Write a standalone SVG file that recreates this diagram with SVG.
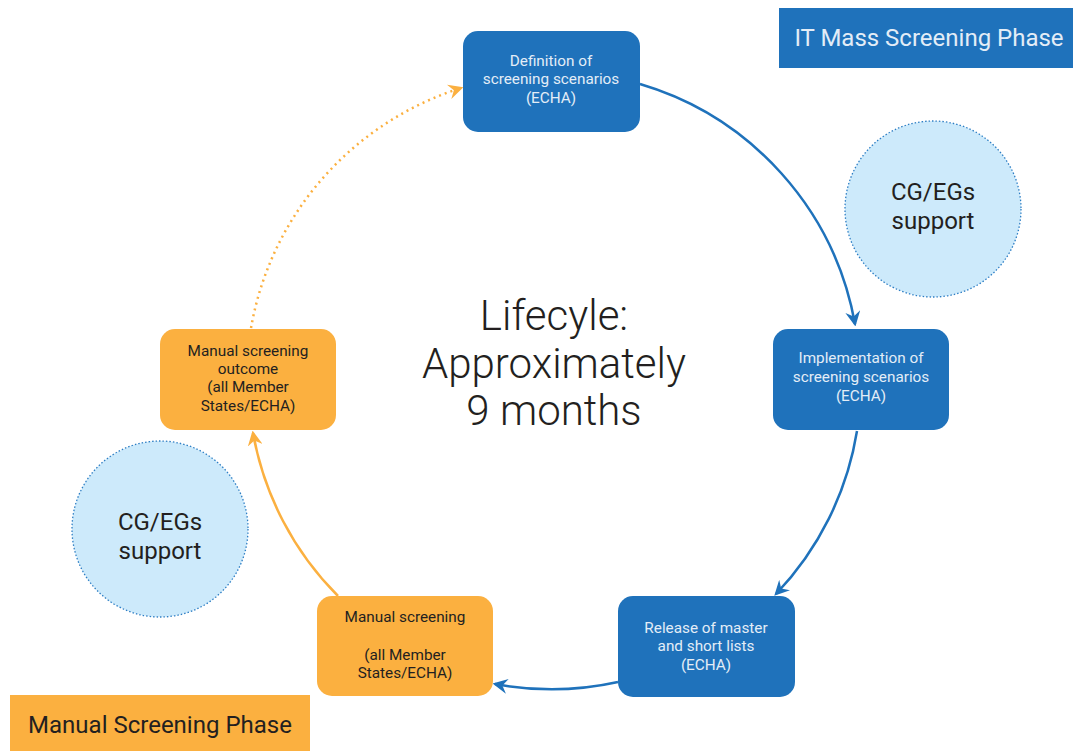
<svg xmlns="http://www.w3.org/2000/svg" width="1073" height="751" viewBox="0 0 1073 751">
<style>
.bbox{fill:#1f72bb}
.obox{fill:#fbb040}
.sup{fill:#cdeafb;stroke:#2d7ec4;stroke-width:1.3;stroke-dasharray:1.5 2}
.wt{font-family:Roboto,"Liberation Sans",sans-serif;font-size:15.3px;fill:#e3edf7;text-anchor:middle}
.dt{font-family:Roboto,"Liberation Sans",sans-serif;font-size:15.3px;fill:#231f20;text-anchor:middle}
.st{font-family:Roboto,"Liberation Sans",sans-serif;font-size:24px;fill:#231f20;text-anchor:middle}
.ct{font-family:Roboto,"Liberation Sans",sans-serif;font-weight:300;font-size:42px;fill:#231f20;text-anchor:middle}
.bl{fill:none;stroke:#1f72bb;stroke-width:2.5}
.or{fill:none;stroke:#fbb040;stroke-width:2.5}
</style>
<defs>
<marker id="ab" viewBox="0 0 12 12" refX="10" refY="6" markerWidth="6" markerHeight="6" orient="auto" markerUnits="strokeWidth">
<path d="M0,0 L12,6 L0,12 L4,6 z" fill="#1f72bb"/>
</marker>
<marker id="ao" viewBox="0 0 12 12" refX="10" refY="6" markerWidth="6" markerHeight="6" orient="auto" markerUnits="strokeWidth">
<path d="M0,0 L12,6 L0,12 L4,6 z" fill="#fbb040"/>
</marker>
</defs>
<rect width="1073" height="751" fill="#ffffff"/>

<g id="connectors">
<path class="bl" d="M640,84 A307,307 0 0 1 855,324" marker-end="url(#ab)"/>
<path class="bl" d="M857,431 A307,307 0 0 1 776,594" marker-end="url(#ab)"/>
<path class="bl" d="M618,682 A307,307 0 0 1 495,684" marker-end="url(#ab)"/>
<path class="or" d="M338,596 A307,307 0 0 1 253,433" marker-end="url(#ao)"/>
<path class="or" stroke-dasharray="2 4" d="M251,328 A307,307 0 0 1 461,88" marker-end="url(#ao)"/>
</g>

<g id="it-phase">
<rect x="779" y="8" width="294" height="60" class="bbox"/>
<text x="929" y="46" class="st" style="fill:#e3edf7">IT Mass Screening Phase</text>
</g>

<g id="manual-phase">
<rect x="10" y="695" width="300" height="56" class="obox"/>
<text x="160" y="733" class="st">Manual Screening Phase</text>
</g>

<g id="definition">
<rect x="463" y="31" width="177" height="101" rx="15" class="bbox"/>
<text class="wt"><tspan x="551" y="66">Definition of</tspan><tspan x="551" y="84">screening scenarios</tspan><tspan x="551" y="103">(ECHA)</tspan></text>
</g>

<g id="implementation">
<rect x="773" y="329" width="176" height="101" rx="15" class="bbox"/>
<text class="wt"><tspan x="861" y="363">Implementation of</tspan><tspan x="861" y="382">screening scenarios</tspan><tspan x="861" y="401">(ECHA)</tspan></text>
</g>

<g id="release">
<rect x="618" y="596" width="177" height="101" rx="15" class="bbox"/>
<text class="wt"><tspan x="706" y="633">Release of master</tspan><tspan x="706" y="651">and short lists</tspan><tspan x="706" y="670">(ECHA)</tspan></text>
</g>

<g id="manual-screening">
<rect x="317" y="596" width="176" height="100" rx="15" class="obox"/>
<text class="dt"><tspan x="405" y="622">Manual screening</tspan><tspan x="405" y="660">(all Member</tspan><tspan x="405" y="678">States/ECHA)</tspan></text>
</g>

<g id="manual-outcome">
<rect x="160" y="329" width="176" height="101" rx="15" class="obox"/>
<text class="dt"><tspan x="248" y="356">Manual screening</tspan><tspan x="248" y="374">outcome</tspan><tspan x="248" y="392">(all Member</tspan><tspan x="248" y="411">States/ECHA)</tspan></text>
</g>

<g id="support-right">
<circle cx="933" cy="209" r="88" class="sup"/>
<text class="st"><tspan x="933" y="200">CG/EGs</tspan><tspan x="933" y="229">support</tspan></text>
</g>

<g id="support-left">
<circle cx="160" cy="529" r="88" class="sup"/>
<text class="st"><tspan x="160" y="530">CG/EGs</tspan><tspan x="160" y="559">support</tspan></text>
</g>

<g id="lifecycle">
<text class="ct"><tspan x="554" y="330">Lifecyle:</tspan><tspan x="554" y="378">Approximately</tspan><tspan x="554" y="425">9 months</tspan></text>
</g>
</svg>
